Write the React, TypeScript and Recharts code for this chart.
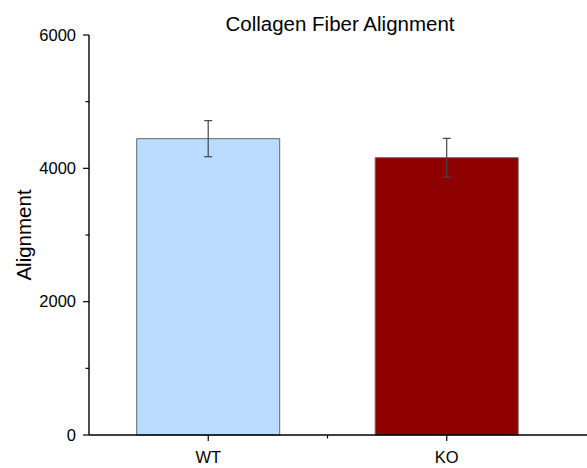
import { BarChart, Bar, XAxis, YAxis, Cell, ErrorBar } from "recharts";

const groups = ["WT", "KO"];
const means = [4445, 4160];
const errors = [270, 290];
const fills = ["#B9DCFF", "#8E0000"];
const yTicks = [0, 1000, 2000, 3000, 4000, 5000, 6000];

const data = groups.map((name, i) => ({ name, value: means[i], err: errors[i] }));

const W = 587;
const H = 468;
const LEFT = 89;
const TOP = 35;
const BOTTOM = 33;
const PAD_RIGHT = 21;
const FONT = "'Liberation Sans', Arial, sans-serif";

const YTick = (props: any) => {
  const { x, y, payload } = props;
  const major = payload.value % 2000 === 0;
  return (
    <g>
      <line x1={x - (major ? 6 : 3.5)} y1={y} x2={x} y2={y} stroke="#000" strokeWidth={1.2} />
      {major && (
        <text x={x - 13} y={y} dy="0.35em" textAnchor="end" fontSize={16.5} fontFamily={FONT} fill="#000">
          {payload.value}
        </text>
      )}
    </g>
  );
};

const XTick = (props: any) => {
  const { x, y, payload, index } = props;
  const band = (W - LEFT - PAD_RIGHT) / groups.length;
  return (
    <g>
      <line x1={x} y1={y} x2={x} y2={y + 6} stroke="#000" strokeWidth={1.2} />
      {index < groups.length - 1 && (
        <line x1={x + band / 2} y1={y} x2={x + band / 2} y2={y + 3.5} stroke="#000" strokeWidth={1.2} />
      )}
      <text x={x} y={y + 28} textAnchor="middle" fontSize={16.5} fontFamily={FONT} fill="#000">
        {payload.value}
      </text>
    </g>
  );
};

export default function App() {
  return (
    <div style={{ position: "absolute", left: 0, top: 0, width: W, height: H, background: "#fff" }}>
      <BarChart
        width={W}
        height={H}
        data={data}
        margin={{ top: TOP, right: 0, bottom: 0, left: 0 }}
        barCategoryGap="20%"
      >
        <text x={340} y={31} textAnchor="middle" fontSize={20.5} fontFamily={FONT} fill="#000">
          Collagen Fiber Alignment
        </text>
        <text
          x={24}
          y={235}
          transform="rotate(-90 24 235)"
          textAnchor="middle"
          dy="0.35em"
          fontSize={20.5}
          fontFamily={FONT}
          fill="#000"
        >
          Alignment
        </text>
        <XAxis
          dataKey="name"
          height={BOTTOM}
          padding={{ left: 0, right: PAD_RIGHT }}
          axisLine={{ stroke: "#000", strokeWidth: 1.4 }}
          tickLine={false}
          tickSize={0}
          tickMargin={0}
          tick={<XTick />}
          interval={0}
        />
        <YAxis
          width={LEFT}
          domain={[0, 6000]}
          ticks={yTicks}
          interval={0}
          axisLine={{ stroke: "#000", strokeWidth: 1.4 }}
          tickLine={false}
          tickSize={0}
          tickMargin={0}
          tick={<YTick />}
        />
        <Bar dataKey="value" stroke="#666" strokeWidth={1} isAnimationActive={false}>
          {data.map((d, i) => (
            <Cell key={d.name} fill={fills[i]} />
          ))}
          <ErrorBar dataKey="err" width={4} stroke="#444" strokeWidth={1.2} direction="y" />
        </Bar>
      </BarChart>
    </div>
  );
}
